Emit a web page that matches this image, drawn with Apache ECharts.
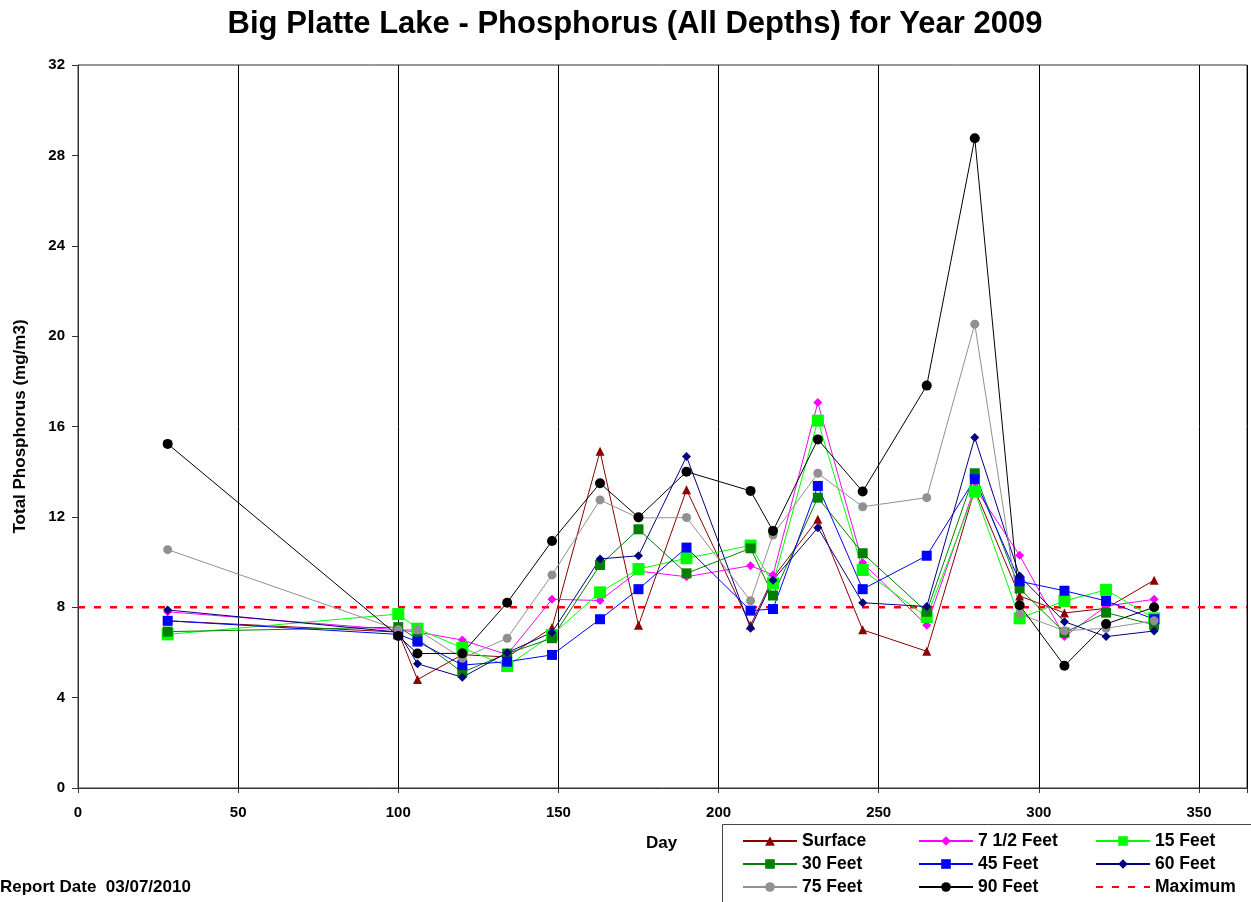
<!DOCTYPE html>
<html><head><meta charset="utf-8">
<script src="https://cdn.jsdelivr.net/npm/echarts@6/dist/echarts.min.js"></script>
<style>html,body{margin:0;padding:0;background:#fff}#c{width:1251px;height:902px}</style>
</head><body><div id="c"></div>
<script>
const days = [28,100,106,120,134,148,163,175,190,210,217,231,245,265,280,294,308,321,336];
const surface = [7.4,6.9,4.8,5.9,5.8,7.1,14.9,7.2,13.2,7.2,9.3,11.9,7.0,6.05,13.2,8.5,7.75,7.95,9.2];
const feet7_5 = [7.8,7.0,6.9,6.55,5.9,8.35,8.3,9.6,9.35,9.84,9.43,17.06,9.97,7.2,13.3,10.3,6.7,8.05,8.35];
const feet15 = [6.8,7.7,7.05,6.2,5.4,6.77,8.66,9.69,10.17,10.73,9.06,16.26,9.65,7.57,13.12,7.51,8.28,8.77,7.51];
const feet30 = [6.92,7.12,6.6,5.12,5.95,6.63,9.87,11.45,9.5,10.61,8.52,12.85,10.39,7.8,13.93,8.83,6.88,7.76,7.22];
const feet45 = [7.4,6.8,6.48,5.44,5.59,5.89,7.47,8.8,10.64,7.85,7.92,13.37,8.8,10.28,13.67,9.15,8.73,8.28,7.47];
const feet60 = [7.88,6.9,5.5,4.9,5.99,6.89,10.14,10.28,14.67,7.07,9.2,11.52,8.2,8.03,15.51,9.38,7.36,6.7,6.95];
const feet75 = [10.55,7.0,7.0,5.74,6.63,9.43,12.75,11.95,11.97,8.29,11.2,13.93,12.45,12.85,20.53,7.7,6.96,7.07,7.4];
const feet90 = [15.23,6.73,5.95,5.96,8.2,10.93,13.49,11.98,14.0,13.15,11.38,15.43,13.12,17.81,28.76,8.09,5.41,7.26,8.0];
const maxDays = [0,365];
const maxValue = [8,8];
const legendCols = [['Surface','30 Feet','75 Feet'],['7 1/2 Feet','45 Feet','90 Feet'],['15 Feet','60 Feet','Maximum']];

const pair = (xs, ys) => xs.map((x,i)=>[x, ys[i]]);
const F = 'Liberation Sans, Arial, sans-serif';
function line(name, data, color, symbol, size){
  return {name, type:'line', data:pair(days,data), symbol, symbolSize:size,
    showAllSymbol:true, lineStyle:{color, width:1}, itemStyle:{color, borderWidth:0}, animation:false};
}
const legendLefts = [742, 918, 1095];
const legends = legendCols.map((col, i) => ({
  orient:'vertical', left:legendLefts[i], top:832, itemWidth:54, itemHeight:12, itemGap:5, padding:0,
  textStyle:{fontFamily:F, fontSize:17.5, lineHeight:18, fontWeight:'bold', color:'#000'},
  data: col.map(n => n === 'Maximum' ? {name:n, itemStyle:{opacity:0}} : n)
}));
const chart = echarts.init(document.getElementById('c'));
chart.setOption({
  animation:false,
  title:{text:'Big Platte Lake - Phosphorus (All Depths) for Year 2009', left:630, textAlign:'center', top:4,
    textStyle:{fontFamily:F, fontSize:31, fontWeight:'bold', color:'#000'}},
  grid:{left:78, right:4, top:65, bottom:114, show:true, borderColor:'#333', borderWidth:1, outerBoundsMode:'none', containLabel:false},
  xAxis:{type:'value', min:0, max:365, interval:50,
    axisLine:{lineStyle:{color:'#333'}}, axisTick:{show:true, length:5, lineStyle:{color:'#333'}},
    axisLabel:{fontFamily:F, fontSize:15, fontWeight:'bold', color:'#000', margin:17,
      formatter:v=> v%50===0 && v<=350 ? String(v) : ''},
    splitLine:{show:true, lineStyle:{color:'#000', width:1}}},
  yAxis:{type:'value', min:0, max:32, interval:4, name:'Total Phosphorus (mg/m3)', nameLocation:'middle', nameGap:49,
    nameTextStyle:{fontFamily:F, fontSize:17, fontWeight:'bold', color:'#000'},
    axisLine:{show:true, lineStyle:{color:'#333'}}, axisTick:{show:true, length:6, lineStyle:{color:'#333'}},
    axisLabel:{fontFamily:F, fontSize:15, fontWeight:'bold', color:'#000', margin:13},
    splitLine:{show:false}},
  legend: legends,
  graphic:[
    {type:'rect', shape:{x:722.5, y:824.5, width:540, height:100}, style:{fill:'none', stroke:'#444', lineWidth:1}},
    {type:'text', x:646, y:835, style:{text:'Day', font:'bold 17px '+F, fill:'#000'}},
    {type:'text', x:0, y:879, style:{text:'Report Date  03/07/2010', font:'bold 17px '+F, fill:'#000'}}
  ],
  series:[
    line('Surface', surface, '#8B0000', 'triangle', 9),
    line('7 1/2 Feet', feet7_5, '#FF00FF', 'diamond', 9),
    line('15 Feet', feet15, '#00FF00', 'rect', 12),
    line('30 Feet', feet30, '#008000', 'rect', 10),
    line('45 Feet', feet45, '#0000FF', 'rect', 10),
    line('60 Feet', feet60, '#000080', 'diamond', 9),
    line('75 Feet', feet75, '#909090', 'circle', 9),
    line('90 Feet', feet90, '#000000', 'circle', 10),
    {name:'Maximum', type:'line', data:pair(maxDays,maxValue), symbol:'none', silent:true,
      lineStyle:{color:'#FF0000', width:2.5, type:[7,9]}, itemStyle:{color:'#FF0000'}, z:1}
  ]
});
</script></body></html>
